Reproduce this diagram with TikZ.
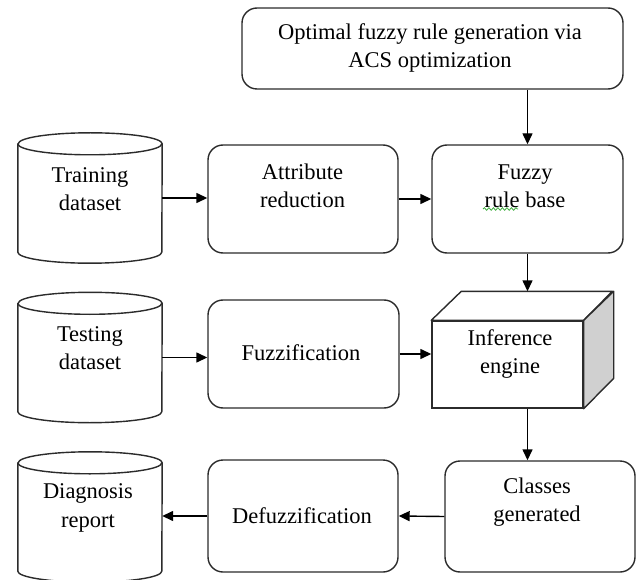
\documentclass[tikz,border=0pt]{standalone}
\usepackage{fontspec}
\setmainfont{Liberation Serif}
\usetikzlibrary{arrows.meta,decorations.pathmorphing}
\definecolor{edge}{HTML}{2B2B2B}
\definecolor{sideface}{HTML}{D0D0D0}
\definecolor{spell}{HTML}{3FAF3F}
\tikzset{
  rbox/.style={draw=edge, line width=1.4pt, rounded corners=15pt, fill=white},
  dbody/.style={minimum width=144pt, minimum height=108pt, inner sep=0pt},
  front/.style={draw=edge, line width=1.4pt, fill=white, minimum width=151pt, minimum height=87pt},
  faceline/.style={draw=edge, line width=1.4pt, line join=round},
  lab/.style={align=center, font=\fontsize{22.5}{28.5}\selectfont},
  arr/.style={-{Triangle[length=11pt,width=10pt]}, line width=1.4pt, black}
}
% cylinder outline round a body node
\newcommand{\dbshape}[1]{%
  \draw[faceline, fill=white] (#1.north west) -- (#1.south west)
    arc[start angle=180, end angle=360, x radius=72pt, y radius=11pt]
    -- (#1.north east)
    arc[start angle=0, end angle=180, x radius=72pt, y radius=11pt] -- cycle;
  \draw[faceline] (#1.north west)
    arc[start angle=180, end angle=360, x radius=72pt, y radius=11pt];
}

\begin{document}
\begin{tikzpicture}[x=1pt,y=-1pt]
  \useasboundingbox (0,0) rectangle (637,580);

  % boxes
  \node[rbox, minimum width=381pt, minimum height=81pt] (acs) at (432.5,48.5) {};
  \node[rbox, minimum width=191pt, minimum height=108pt] (fuzzy) at (527.5,199) {};
  \node[rbox, minimum width=190pt, minimum height=108pt] (attr) at (303,199) {};
  \node[rbox, minimum width=191pt, minimum height=108pt] (fuzzif) at (303.5,354) {};
  \node[rbox, minimum width=190pt, minimum height=111pt] (classes) at (540,516.5) {};
  \node[rbox, minimum width=190pt, minimum height=112pt] (defuzz) at (303,516) {};

  % data stores
  \node[dbody] (train) at (90,198) {};
  \node[dbody] (test) at (90,357.5) {};
  \node[dbody] (diag) at (90,517) {};
  \dbshape{train}
  \dbshape{test}
  \dbshape{diag}

  % inference engine block
  \node[front] (infer) at (507.5,364.5) {};
  \draw[faceline, fill=white] (infer.north west) -- ++(30,-29) coordinate (infback)
    -- ++(151,0) -- (infer.north east) -- cycle;
  \draw[faceline, fill=sideface] (infer.north east) -- ++(30,-29) -- ++(0,87)
    -- (infer.south east) -- cycle;

  % texts
  \node[lab] (acsT) at (430,48) {Optimal fuzzy rule generation via\\ACS optimization};
  \node[lab] (fuzzyT) at (525,186) {Fuzzy\\rule base};
  \node[lab] (attrT) at (302.5,186) {Attribute\\reduction};
  \node[lab] (fuzzifT) at (301,353) {Fuzzification};
  \node[lab] (inferT) at (510,354) {Inference\\engine};
  \node[lab] (classesT) at (537,502) {Classes\\generated};
  \node[lab] (defuzzT) at (302,516) {Defuzzification};
  \node[lab] (trainT) at (90,189) {Training\\dataset};
  \node[lab] (testT) at (90,348) {Testing\\dataset};
  \node[lab] (diagT) at (88,508) {Diagnosis\\report};

  % spell check mark
  \draw[spell, line width=0.8pt, decorate, decoration={snake, amplitude=1.3pt, segment length=4.5pt}]
    (483,209) -- (518,209);

  % flow
  \draw[arr] (acs.south -| fuzzy.north) -- (fuzzy.north);
  \draw[arr] (train.east) -- (train.east -| attr.west);
  \draw[arr] (attr.east) -- (fuzzy.west);
  \draw[arr] (fuzzy.south) -- (fuzzy.south |- infback);
  \draw[arr] (test.east) -- (test.east -| fuzzif.west);
  \draw[arr] (fuzzif.east) -- (fuzzif.east -| infer.west);
  \draw[arr] (fuzzy.south |- infer.south) -- (fuzzy.south |- classes.north);
  \draw[arr] (classes.west) -- (defuzz.east);
  \draw[arr] (defuzz.west) -- (defuzz.west -| diag.east);
\end{tikzpicture}
\end{document}
